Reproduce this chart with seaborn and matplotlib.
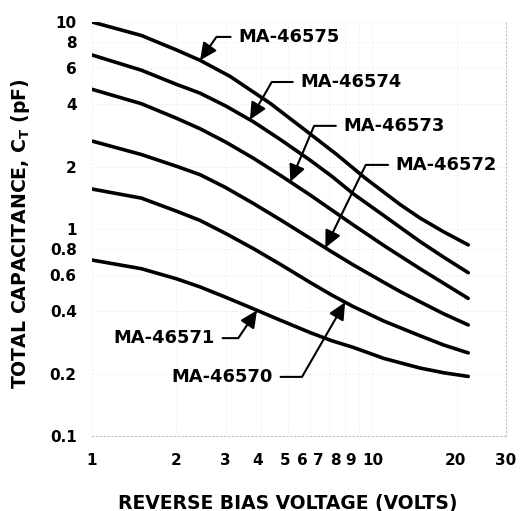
import numpy as np
import pandas as pd
import matplotlib
matplotlib.use("Agg")
import matplotlib.pyplot as plt
import matplotlib.transforms as mtransforms
import seaborn as sns
from matplotlib.ticker import FixedLocator, FixedFormatter, NullLocator

# ---------------- data ----------------
devices = ["MA-46575", "MA-46574", "MA-46573", "MA-46572", "MA-46570", "MA-46571"]

v_46575 = [1.0, 1.5, 2.0, 2.43, 3.11, 4.32, 6.0, 7.5, 9.44, 12.6, 14.8, 18.0, 22.0]
c_46575 = [10.0, 8.61, 7.33, 6.53, 5.46, 4.05, 2.88, 2.28, 1.76, 1.31, 1.13, 0.968, 0.838]

v_46574 = [1.0, 1.5, 2.0, 2.43, 3.0, 3.76, 4.69, 6.0, 7.2, 8.55, 11.0, 14.8, 18.0, 22.0]
c_46574 = [6.93, 5.85, 5.0, 4.53, 3.93, 3.30, 2.71, 2.15, 1.79, 1.48, 1.16, 0.87, 0.73, 0.615]

v_46573 = [1.0, 1.5, 2.0, 2.43, 3.0, 3.76, 4.69, 6.0, 7.2, 8.55, 11.0, 14.8, 18.0, 22.0]
c_46573 = [4.73, 4.03, 3.43, 3.05, 2.63, 2.20, 1.82, 1.46, 1.23, 1.047, 0.832, 0.643, 0.546, 0.462]

v_46572 = [1.0, 1.5, 2.0, 2.43, 3.0, 3.76, 4.69, 6.0, 7.2, 8.55, 11.0, 12.6, 14.8, 18.0, 22.0]
c_46572 = [2.66, 2.29, 2.01, 1.83, 1.585, 1.33, 1.11, 0.902, 0.773, 0.671, 0.552, 0.498, 0.445, 0.389, 0.344]

v_46570 = [1.0, 1.5, 2.0, 2.43, 3.0, 3.76, 4.69, 6.0, 7.2, 8.55, 11.0, 14.8, 18.0, 22.0]
c_46570 = [1.56, 1.41, 1.22, 1.10, 0.951, 0.805, 0.676, 0.552, 0.478, 0.422, 0.359, 0.305, 0.275, 0.252]

v_46571 = [1.0, 1.5, 2.0, 2.43, 3.0, 3.76, 4.69, 6.0, 7.2, 8.55, 11.0, 14.8, 18.0, 22.0]
c_46571 = [0.708, 0.643, 0.575, 0.525, 0.468, 0.412, 0.363, 0.316, 0.288, 0.268, 0.237, 0.213, 0.202, 0.194]

x_ticks = [1, 2, 3, 4, 5, 6, 7, 8, 9, 10, 20, 30]
x_tick_labels = ["1", "2", "3", "4", "5", "6", "7", "8", "9", "10", "20", "30"]
y_ticks = [0.1, 0.2, 0.4, 0.6, 0.8, 1, 2, 4, 6, 8, 10]
y_tick_labels = ["0.1", "0.2", "0.4", "0.6", "0.8", "1", "2", "4", "6", "8", "10"]

x_label = "REVERSE BIAS VOLTAGE (VOLTS)"
y_label = "TOTAL CAPACITANCE, C$_\\mathrm{T}$ (pF)"

series = {
    "MA-46575": (v_46575, c_46575),
    "MA-46574": (v_46574, c_46574),
    "MA-46573": (v_46573, c_46573),
    "MA-46572": (v_46572, c_46572),
    "MA-46570": (v_46570, c_46570),
    "MA-46571": (v_46571, c_46571),
}

rows = []
for d in devices:
    vs, cs = series[d]
    for v, c in zip(vs, cs):
        rows.append({"device": d, "voltage": v, "capacitance": c})
df = pd.DataFrame(rows)

# ---------------- style ----------------
sns.set_theme(style="white")
plt.rcParams["font.family"] = ["DejaVu Sans"]
plt.rcParams["font.weight"] = "bold"
plt.rcParams["mathtext.fontset"] = "custom"
plt.rcParams["mathtext.rm"] = "DejaVu Sans:bold"
plt.rcParams["mathtext.it"] = "DejaVu Sans:bold"
plt.rcParams["mathtext.bf"] = "DejaVu Sans:bold"

fig = plt.figure(figsize=(5.27, 5.11), dpi=100)
ax = fig.add_axes([92 / 527, 1 - 436 / 511, 414 / 527, 414 / 511])

sns.lineplot(data=df, x="voltage", y="capacitance", hue="device",
             palette={d: "black" for d in devices}, estimator=None,
             sort=False, legend=False, ax=ax, linewidth=2.6,
             solid_capstyle="round", solid_joinstyle="round")

ax.set_xscale("log")
ax.set_yscale("log")
ax.set_xlim(1, 30)
ax.set_ylim(0.1, 10)

ax.xaxis.set_major_locator(FixedLocator(x_ticks))
ax.xaxis.set_major_formatter(FixedFormatter(x_tick_labels))
ax.xaxis.set_minor_locator(NullLocator())
ax.yaxis.set_major_locator(FixedLocator(y_ticks))
ax.yaxis.set_major_formatter(FixedFormatter(y_tick_labels))
ax.yaxis.set_minor_locator(NullLocator())

ax.tick_params(axis="x", length=0, labelsize=11, pad=12, colors="black")
ax.tick_params(axis="y", length=0, labelsize=11, pad=11, colors="black")
for lab in ax.get_xticklabels() + ax.get_yticklabels():
    lab.set_fontweight("bold")

# the reference squeezes the 4..9 labels slightly to the left
x_label_shift_px = {"4": -3, "5": -3, "6": -8, "7": -11, "8": -10, "9": -9, "10": 1, "20": -1}
for lab in ax.get_xticklabels():
    dx = x_label_shift_px.get(lab.get_text(), 0)
    if dx:
        lab.set_transform(lab.get_transform() +
                          mtransforms.ScaledTranslation(dx / 100, 0, fig.dpi_scale_trans))

ax.grid(True, which="major", color="#e2e2e2", linestyle=(0, (1, 3)), linewidth=0.7)
for s in ["left", "top"]:
    ax.spines[s].set_visible(False)
for s in ["bottom", "right"]:
    ax.spines[s].set_color("#bdbdbd")
    ax.spines[s].set_linestyle((0, (1, 2.5)))
    ax.spines[s].set_linewidth(0.8)

ax.set_xlabel(x_label, fontsize=13.5, fontweight="bold", color="black", va="center")
ax.xaxis.set_label_coords((288 - 92) / 414, -(503 - 436) / 414)
ax.set_ylabel(y_label, fontsize=13.6, fontweight="bold", color="black", va="center")
ax.yaxis.set_label_coords((20 - 92) / 414, 0.49)


def curve_c(dev, v):
    vs, cs = series[dev]
    return 10 ** np.interp(np.log10(v), np.log10(vs), np.log10(cs))


# (label, curve pointed at, tip voltage, text x, text y, ha, diagonal angle)
annotations = [
    ("MA-46575", "MA-46575", 2.43, 3.32, 8.47, "left", 55),
    ("MA-46574", "MA-46574", 3.66, 5.53, 5.13, "left", 60),
    ("MA-46573", "MA-46573", 5.1, 7.88, 3.15, "left", 67),
    ("MA-46572", "MA-46572", 6.8, 12.1, 2.04, "left", 64),
    ("MA-46571", "MA-46571", 3.88, 2.75, 0.297, "right", 56),
    ("MA-46570", "MA-46570", 8.0, 4.43, 0.193, "right", 60),
]
for label, dev, tip_v, tx, ty, ha, ang in annotations:
    relpos = (0, 0.5) if ha == "left" else (1, 0.5)
    ax.annotate(label, xy=(tip_v, curve_c(dev, tip_v)), xytext=(tx, ty),
                ha=ha, va="center", fontsize=12.9, fontweight="bold",
                color="black",
                arrowprops=dict(arrowstyle="-|>,head_length=0.8,head_width=0.38",
                                connectionstyle=f"angle,angleA=0,angleB={ang},rad=0",
                                relpos=relpos, shrinkA=3, shrinkB=0,
                                color="black", lw=1.5))

fig.savefig("out.png", dpi=100)
